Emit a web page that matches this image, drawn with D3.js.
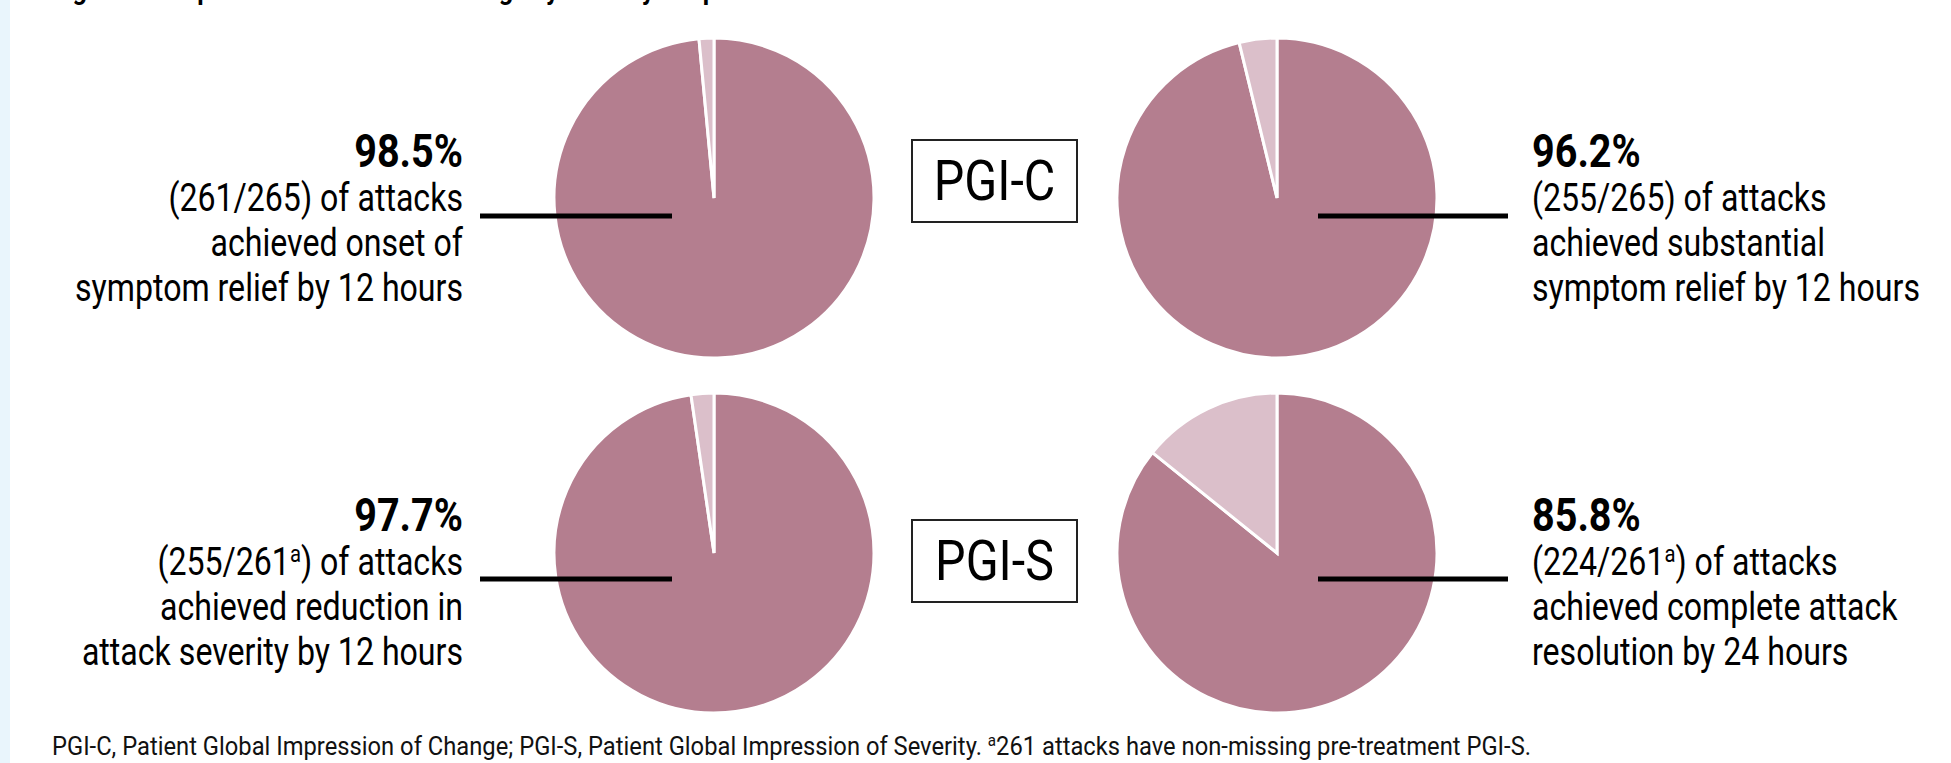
<!DOCTYPE html>
<html>
<head>
<meta charset="utf-8">
<script src="https://cdn.jsdelivr.net/npm/d3@7"></script>
<style>
  html, body { margin: 0; padding: 0; background: #fff; overflow: hidden; }
  svg { display: block; }
</style>
</head>
<body>
<svg id="chart" width="1951" height="763"></svg>
<script>
// Outcome panels: top row PGI-C, bottom row PGI-S
const percents = [98.5, 96.2, 97.7, 85.8];
const counts = ["(261/265", "(255/265", "(255/261", "(224/261"];
const countNotes = ["", "", "a", "a"];
const descLine2 = ["achieved onset of", "achieved substantial", "achieved reduction in", "achieved complete attack"];
const descLine3 = ["symptom relief by 12 hours", "symptom relief by 12 hours", "attack severity by 12 hours", "resolution by 24 hours"];
const scaleLabels = ["PGI-C", "PGI-S"];
const titleText = "Figure 3. Proportion of attacks achieving key efficacy endpoints";
const footnote = "PGI-C, Patient Global Impression of Change; PGI-S, Patient Global Impression of Severity. ";
const footnoteNote = "a";
const footnoteTail = "261 attacks have non-missing pre-treatment PGI-S.";

const W = 1951, H = 763;
const svg = d3.select("#chart");
const FONT = "Roboto, 'Liberation Sans', sans-serif";
const DARK = "#b47e8f", LIGHT = "#dbbfca";

// left accent strip
svg.append("rect").attr("x", 0).attr("y", 0).attr("width", 10).attr("height", H).attr("fill", "#e9f5fc");

// title (runs off the top edge)
svg.append("text")
  .attr("transform", "translate(52,-1) scale(0.9,1)")
  .attr("font-family", FONT).attr("font-weight", 700).attr("font-size", 28)
  .attr("fill", "#000").text(titleText);

// grid positions for the four panels
const col = d3.scalePoint().domain([0, 1]).range([714, 1277]);
const row = d3.scalePoint().domain([0, 1]).range([198, 553]);
const R = 160;

const pie = d3.pie().sort(null).value(d => d);
const arc = d3.arc().innerRadius(0).outerRadius(R);

percents.forEach((p, i) => {
  const c = i % 2, r = Math.floor(i / 2);
  const g = svg.append("g").attr("transform", `translate(${col(c)},${row(r)})`);
  g.selectAll("path")
    .data(pie([p, 100 - p]))
    .join("path")
    .attr("d", arc)
    .attr("fill", (d, j) => j === 0 ? DARK : LIGHT)
    .attr("stroke", "#fff")
    .attr("stroke-width", 3)
    .attr("stroke-linejoin", "miter");
});

// leader lines and text blocks
const lineY = [216, 216, 579, 579];
const textTop = [167, 167, 531, 531];
percents.forEach((p, i) => {
  const c = i % 2;
  const x1 = c === 0 ? 480 : 1318, x2 = c === 0 ? 672 : 1508;
  svg.append("line")
    .attr("x1", x1).attr("x2", x2).attr("y1", lineY[i]).attr("y2", lineY[i])
    .attr("stroke", "#000").attr("stroke-width", 5);

  const tx = c === 0 ? 463 : 1532;
  const anchor = c === 0 ? "end" : "start";
  const base = textTop[i];
  const mk = (y, sq) => svg.append("text")
    .attr("transform", `translate(${tx},${y}) scale(${sq},1)`)
    .attr("text-anchor", anchor)
    .attr("font-family", FONT).attr("fill", "#000");

  mk(base, 0.86).attr("font-size", 46).attr("font-weight", 700).text(d3.format(".1f")(p) + "%");
  const t1 = mk(base + 44, 0.845).attr("font-size", 38);
  t1.append("tspan").text(counts[i]);
  if (countNotes[i]) {
    t1.append("tspan").attr("font-size", 24).attr("dy", -13).text(countNotes[i]);
    t1.append("tspan").attr("dy", 13).text(") of attacks");
  } else {
    t1.append("tspan").text(") of attacks");
  }
  mk(base + 89, 0.845).attr("font-size", 38).text(descLine2[i]);
  mk(base + 134, 0.845).attr("font-size", 38).text(descLine3[i]);
});

// scale labels in boxes
const boxTop = [140, 520];
scaleLabels.forEach((lab, k) => {
  svg.append("rect")
    .attr("x", 912).attr("y", boxTop[k]).attr("width", 165).attr("height", 82)
    .attr("fill", "#fff").attr("stroke", "#222").attr("stroke-width", 2);
  svg.append("text")
    .attr("transform", `translate(${912 + 82.5},${boxTop[k] + 60}) scale(0.88,1)`)
    .attr("text-anchor", "middle")
    .attr("font-family", FONT).attr("font-size", 55).attr("fill", "#000")
    .text(lab);
});

// footnote
const fn = svg.append("text")
  .attr("transform", "translate(52,755) scale(0.95,1)")
  .attr("font-family", FONT).attr("font-size", 25).attr("fill", "#111");
fn.append("tspan").text(footnote);
fn.append("tspan").attr("font-size", 16).attr("dy", -9).text(footnoteNote);
fn.append("tspan").attr("dy", 9).text(footnoteTail);
</script>
</body>
</html>
